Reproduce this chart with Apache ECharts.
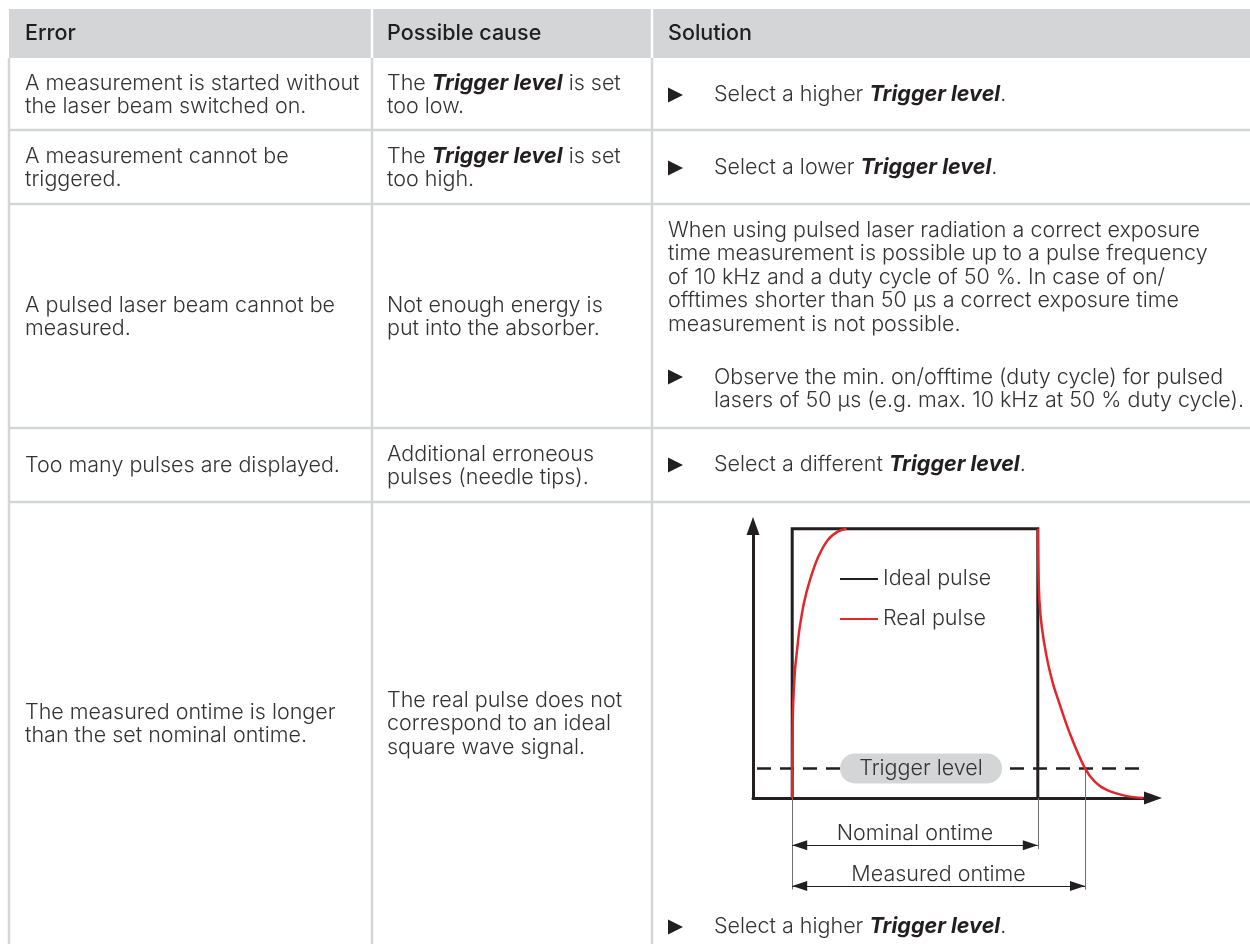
<!DOCTYPE html>
<html><head><meta charset="utf-8">
<style>html,body{margin:0;padding:0;background:#fff}#c{width:1250px;height:944px}</style>
<script src="https://cdn.jsdelivr.net/npm/echarts@6/dist/echarts.min.js"></script>
</head><body><div id="c"></div>
<script>
// ---------- DATA ----------
const headers = ['Error', 'Possible cause', 'Solution'];
const errors = [
  'A measurement is started without\nthe laser beam switched on.',
  'A measurement cannot be\ntriggered.',
  'A pulsed laser beam cannot be\nmeasured.',
  'Too many pulses are displayed.',
  'The measured ontime is longer\nthan the set nominal ontime.'
];
const causes = [
  'The {b|Trigger level} is set\ntoo low.',
  'The {b|Trigger level} is set\ntoo high.',
  'Not enough energy is\nput into the absorber.',
  'Additional erroneous\npulses (needle tips).',
  'The real pulse does not\ncorrespond to an ideal\nsquare wave signal.'
];
const solutionNote = 'When using pulsed laser radiation a correct exposure\ntime measurement is possible up to a pulse frequency\nof 10 kHz and a duty cycle of 50 %. In case of on/\nofftimes shorter than 50 µs a correct exposure time\nmeasurement is not possible.';
const solutionBullets = [
  'Select a higher {b|Trigger level}.',
  'Select a lower {b|Trigger level}.',
  'Observe the min. on/offtime (duty cycle) for pulsed\nlasers of 50 µs (e.g. max. 10 kHz at 50 % duty cycle).',
  'Select a different {b|Trigger level}.',
  'Select a higher {b|Trigger level}.'
];

// pulse diagram (x: time units, y: signal %)
const idealPulse = [[9.8, 0], [9.8, 100], [71.2, 100], [71.2, 0]];
const realRise = [[9.8, 0], [9.85, 20], [10.05, 35], [10.5, 47.5], [11.1, 56], [11.6, 62.5], [12.75, 72.5], [14.25, 81], [16.3, 89.5], [18.8, 96], [21.3, 99], [23.4, 100]];
const realFall = [[71.2, 100], [71.3, 88], [71.6, 73.5], [72.2, 63.5], [73.4, 52.5], [74.8, 43.5], [76.3, 36.4], [79.2, 24], [83, 11], [85.5, 6], [88.4, 3], [93.4, 0.7], [97.6, 0]];
const triggerLevel = 11;
const triggerSpan = [1, 97.5];
const triggerLabelX = 42;
const legendNames = ['Ideal pulse', 'Real pulse'];
const nominalOntime = [9.8, 71.2];
const measuredOntime = [9.8, 83];
const dimLabels = ['Nominal ontime', 'Measured ontime'];
const dimLevels = [-17.5, -32.7];
const extLines = [[9.8, 0, -34], [71.2, 0, -19], [83, 11, -34]];

// ---------- FONT SIZE (fit measured widths of reference lines) ----------
const FONT_NAME = 'Inter';
const LIGHT = 300;
const ctx = document.createElement('canvas').getContext('2d');
ctx.font = LIGHT + ' 20px "' + FONT_NAME + '"';
const samples = [
  ['A measurement is started without', 332, 3],
  ['When using pulsed laser radiation a correct exposure', 548, 1],
  ['time measurement is possible up to a pulse frequency', 556, 1],
  ['lasers of 50 µs (e.g. max. 10 kHz at 50 % duty cycle).', 527, 2]
];
const wSum = samples.reduce((a, s) => a + s[2], 0);
const ratioMean = samples.reduce((a, s) => a + s[2] * s[1] / ctx.measureText(s[0]).width, 0) / wSum;

// ---------- STYLE ----------
const FONT = '"' + FONT_NAME + '", "Roboto", "Liberation Sans", sans-serif';
const FS = Math.floor(20 * ratioMean * 4) / 4;
const LH = 23.5;
const TXT = '#333333';
const DARK = '#231f20';
const GRID = '#d4d5d7';
const RED = '#e3262b';

const rich = { b: { fontFamily: FONT, fontSize: FS, fontWeight: 'bold', fontStyle: 'italic', fill: DARK, lineHeight: LH } };

const colX = [9, 372, 652, 1250];
const rowY = [9, 58, 130, 204, 428, 502, 944];
const textX = [25, 387, 668];
const bulletTextX = 714;

const els = [];
els.push({ type: 'rect', shape: { x: colX[0], y: rowY[0], width: colX[3] - colX[0], height: rowY[1] - rowY[0] }, style: { fill: GRID }, silent: true });
[colX[1], colX[2]].forEach(x => els.push({ type: 'line', shape: { x1: x, y1: rowY[0], x2: x, y2: rowY[1] }, style: { stroke: '#ffffff', lineWidth: 2.5 }, silent: true }));
[colX[0], colX[1], colX[2]].forEach(x => els.push({ type: 'line', shape: { x1: x, y1: rowY[1], x2: x, y2: rowY[6] }, style: { stroke: GRID, lineWidth: 2.5 }, silent: true }));
[2, 3, 4, 5].forEach(i => els.push({ type: 'line', shape: { x1: colX[0], y1: rowY[i], x2: colX[3], y2: rowY[i] }, style: { stroke: GRID, lineWidth: 2.5 }, silent: true }));

function txt(x, y, text, va, weight) {
  els.push({ type: 'text', x: x, y: y, silent: true, style: { text: text, fill: weight ? '#1f1f1f' : TXT, fontFamily: FONT, fontSize: FS, fontWeight: weight || LIGHT, lineHeight: LH, rich: rich, verticalAlign: va || 'middle', align: 'left' } });
}
function bullet(cy) {
  els.push({ type: 'polygon', silent: true, shape: { points: [[668, cy - 7.5], [668, cy + 7.5], [683, cy]] }, style: { fill: DARK } });
}
headers.forEach((h, i) => txt(textX[i], (rowY[0] + rowY[1]) / 2 + 0.5, h, 'middle', 500));
const centers = [1, 2, 3, 4, 5].map(i => (rowY[i] + rowY[i + 1]) / 2);
errors.forEach((t, i) => txt(textX[0], centers[i] + 1, t));
causes.forEach((t, i) => txt(textX[1], centers[i] + 1, t));
bullet(95); txt(bulletTextX, 95, solutionBullets[0]);
bullet(168); txt(bulletTextX, 168, solutionBullets[1]);
txt(textX[2], 218.5, solutionNote, 'top');
bullet(377); txt(bulletTextX, 365.5, solutionBullets[2], 'top');
bullet(465); txt(bulletTextX, 465, solutionBullets[3]);
bullet(927); txt(bulletTextX, 927, solutionBullets[4]);

// ---------- CHART ----------
const yMax = 101, yMin1 = -37;
const G0 = { left: 753, top: 526, width: 400, height: 272 };
const G1 = { left: 753, top: 526, width: 400, height: 272 * (yMax - yMin1) / yMax };
const pill = 'path://M15,0 L147,0 A15,15 0 0 1 147,30 L15,30 A15,15 0 0 1 15,0 Z';

const chart = echarts.init(document.getElementById('c'), null, { renderer: 'canvas', width: 1250, height: 944 });
chart.setOption({
  animation: false,
  textStyle: { fontFamily: FONT },
  graphic: { elements: els },
  legend: {
    data: legendNames, orient: 'vertical', left: 839, top: 567, padding: 0,
    itemWidth: 38, itemHeight: 14, itemGap: 16, selectedMode: false,
    itemStyle: { opacity: 0 },
    textStyle: { fontSize: FS, fontWeight: LIGHT, color: TXT, fontFamily: FONT, lineHeight: 24 }
  },
  grid: [Object.assign({}, G0), Object.assign({}, G1)],
  xAxis: [
    { gridIndex: 0, type: 'value', min: 0, max: 100,
      axisLine: { show: true, onZero: false, symbol: ['none', 'triangle'], symbolSize: [13, 18], lineStyle: { color: DARK, width: 3 } },
      axisTick: { show: false }, axisLabel: { show: false }, splitLine: { show: false } },
    { gridIndex: 1, type: 'value', min: 0, max: 100, show: false, splitLine: { show: false } }
  ],
  yAxis: [
    { gridIndex: 0, type: 'value', min: 0, max: yMax,
      axisLine: { show: true, onZero: false, symbol: ['none', 'triangle'], symbolSize: [13, 18], lineStyle: { color: DARK, width: 3 } },
      axisTick: { show: false }, axisLabel: { show: false }, splitLine: { show: false } },
    { gridIndex: 1, type: 'value', min: yMin1, max: yMax, show: false, splitLine: { show: false } }
  ],
  series: [
    { type: 'line', xAxisIndex: 0, yAxisIndex: 0, silent: true, z: 2, symbol: 'none',
      data: triggerSpan.map(x => [x, triggerLevel]),
      lineStyle: { color: DARK, width: 2.5, type: [14, 9] } },
    { name: legendNames[0], type: 'line', xAxisIndex: 0, yAxisIndex: 0, silent: true, z: 3, symbol: 'none',
      data: idealPulse, itemStyle: { color: DARK }, lineStyle: { color: DARK, width: 3, join: 'miter' } },
    { name: legendNames[1], type: 'line', xAxisIndex: 0, yAxisIndex: 0, silent: true, z: 4, symbol: 'none',
      data: realRise, smooth: 0.35, itemStyle: { color: RED }, lineStyle: { color: RED, width: 2.5 } },
    { name: legendNames[1], type: 'line', xAxisIndex: 0, yAxisIndex: 0, silent: true, z: 4, symbol: 'none',
      data: realFall, smooth: 0.35, itemStyle: { color: RED }, lineStyle: { color: RED, width: 2.5 } },
    { type: 'scatter', xAxisIndex: 0, yAxisIndex: 0, silent: true, z: 6,
      symbol: pill, symbolSize: [162, 30], symbolKeepAspect: false,
      data: [[triggerLabelX, triggerLevel]], itemStyle: { color: GRID, opacity: 1 },
      label: { show: true, position: 'inside', formatter: 'Trigger level', fontSize: FS, fontWeight: LIGHT, fontFamily: FONT, color: TXT } },
    { type: 'lines', coordinateSystem: 'cartesian2d', xAxisIndex: 1, yAxisIndex: 1, silent: true, z: 1,
      data: extLines.map(l => ({ coords: [[l[0], l[1]], [l[0], l[2]]] })),
      lineStyle: { color: '#6d6e71', width: 1, opacity: 1 } },
    { type: 'line', xAxisIndex: 1, yAxisIndex: 1, silent: true, data: [], z: 5,
      markLine: { silent: true, animation: false, symbol: ['triangle', 'triangle'], symbolSize: [10, 15], symbolOffset: [[0, 7.5], [0, 7.5]],
        lineStyle: { color: DARK, width: 1, type: 'solid' },
        label: { show: true, position: 'insideMiddleTop', distance: 1, formatter: '{b}', fontSize: FS, fontWeight: LIGHT, fontFamily: FONT, color: TXT, lineHeight: 22 },
        emphasis: { disabled: true },
        data: [
          [{ name: dimLabels[0], coord: [nominalOntime[0], dimLevels[0]] }, { coord: [nominalOntime[1], dimLevels[0]] }],
          [{ name: dimLabels[1], coord: [measuredOntime[0], dimLevels[1]] }, { coord: [measuredOntime[1], dimLevels[1]] }]
        ] } }
  ]
});
</script></body></html>
